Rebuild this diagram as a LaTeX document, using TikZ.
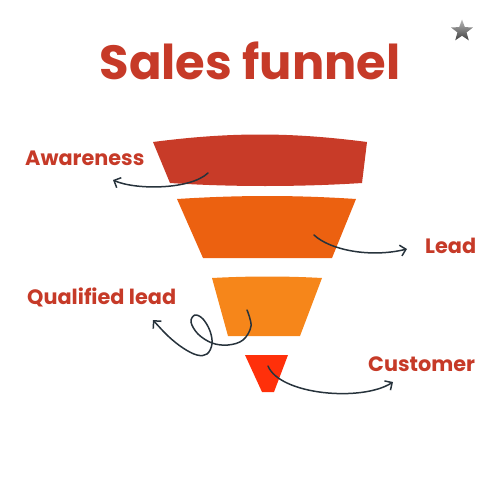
\documentclass[tikz,border=0pt]{standalone}
\usepackage{fontspec}
\setmainfont{Poppins}
\usetikzlibrary{arrows.meta,shapes.geometric}

\definecolor{rust}{HTML}{C63A28}
\definecolor{awarecol}{HTML}{C83B28}
\definecolor{leadcol}{HTML}{EC6110}
\definecolor{qualcol}{HTML}{F6861A}
\definecolor{custcol}{HTML}{FF300A}
\definecolor{ink}{HTML}{27333C}

\tikzset{
  stagetext/.style={text=rust, font=\fontsize{20.8}{24}\selectfont\bfseries, inner sep=0pt, anchor=base west},
  hook/.style={draw=ink, line width=1.5pt, line cap=round, -{Straight Barb[length=5.5pt,width=11pt]}}
}

\begin{document}
\begin{tikzpicture}[x=1pt,y=-1pt]
	\useasboundingbox (0,0) rectangle (500,500);

	\node[text=rust, font=\fontsize{48}{58}\selectfont\bfseries, inner sep=0pt, anchor=base] (title) at (250,80) {Sales funnel};
	\node[star, star points=5, star point ratio=2.4, minimum size=23pt, inner sep=0pt,
		top color=gray!55, bottom color=black!75] (logo) at (462,31) {};

	% funnel
	\fill[awarecol] (153,142) .. controls (230,132) and (290,132) .. (367,142) -- (362,183) .. controls (300,187) and (230,187) .. (170,183) -- cycle;
	\fill[leadcol] (177,199) .. controls (240,195) and (295,195) .. (356,199) -- (332,258) -- (203,258) -- cycle;
	\fill[qualcol] (212,278) .. controls (250,276) and (285,276) .. (322,278) -- (300,336) -- (228,336) -- cycle;
	\fill[custcol] (245,355) -- (288,355) -- (274,392) -- (262,392) -- cycle;

	\node[stagetext] (aware) at (25,165) {Awareness};
	\node[stagetext] (lead) at (425,253) {Lead};
	\node[stagetext] (qual) at (27,304) {Qualified lead};
	\node[stagetext] (cust) at (368,371) {Customer};

	\coordinate (aware-in) at (208,173);
	\coordinate (aware-tip) at (113,180);
	\coordinate (lead-in) at (314,235);
	\coordinate (lead-tip) at (407,249);
	\coordinate (qual-in) at (247,310);
	\coordinate (qual-tip) at (153,320);
	\coordinate (cust-in) at (268,366);
	\coordinate (cust-tip) at (393,382);

	\draw[hook] (aware-in) .. controls (190,190) and (135,190) .. (aware-tip);
	\draw[hook] (lead-in) .. controls (330,250) and (370,258) .. (lead-tip);
	\draw[hook] plot[smooth, tension=0.6] coordinates {(qual-in) (251,326) (243,340) (228,345) (212,343) (198,334) (191,322) (195,315) (203,319) (210,331) (212,344) (207,354) (197,355) (183,348) (168,336) (qual-tip)};
	\draw[hook] (cust-in) .. controls (280,395) and (362,402) .. (cust-tip);
\end{tikzpicture}
\end{document}
